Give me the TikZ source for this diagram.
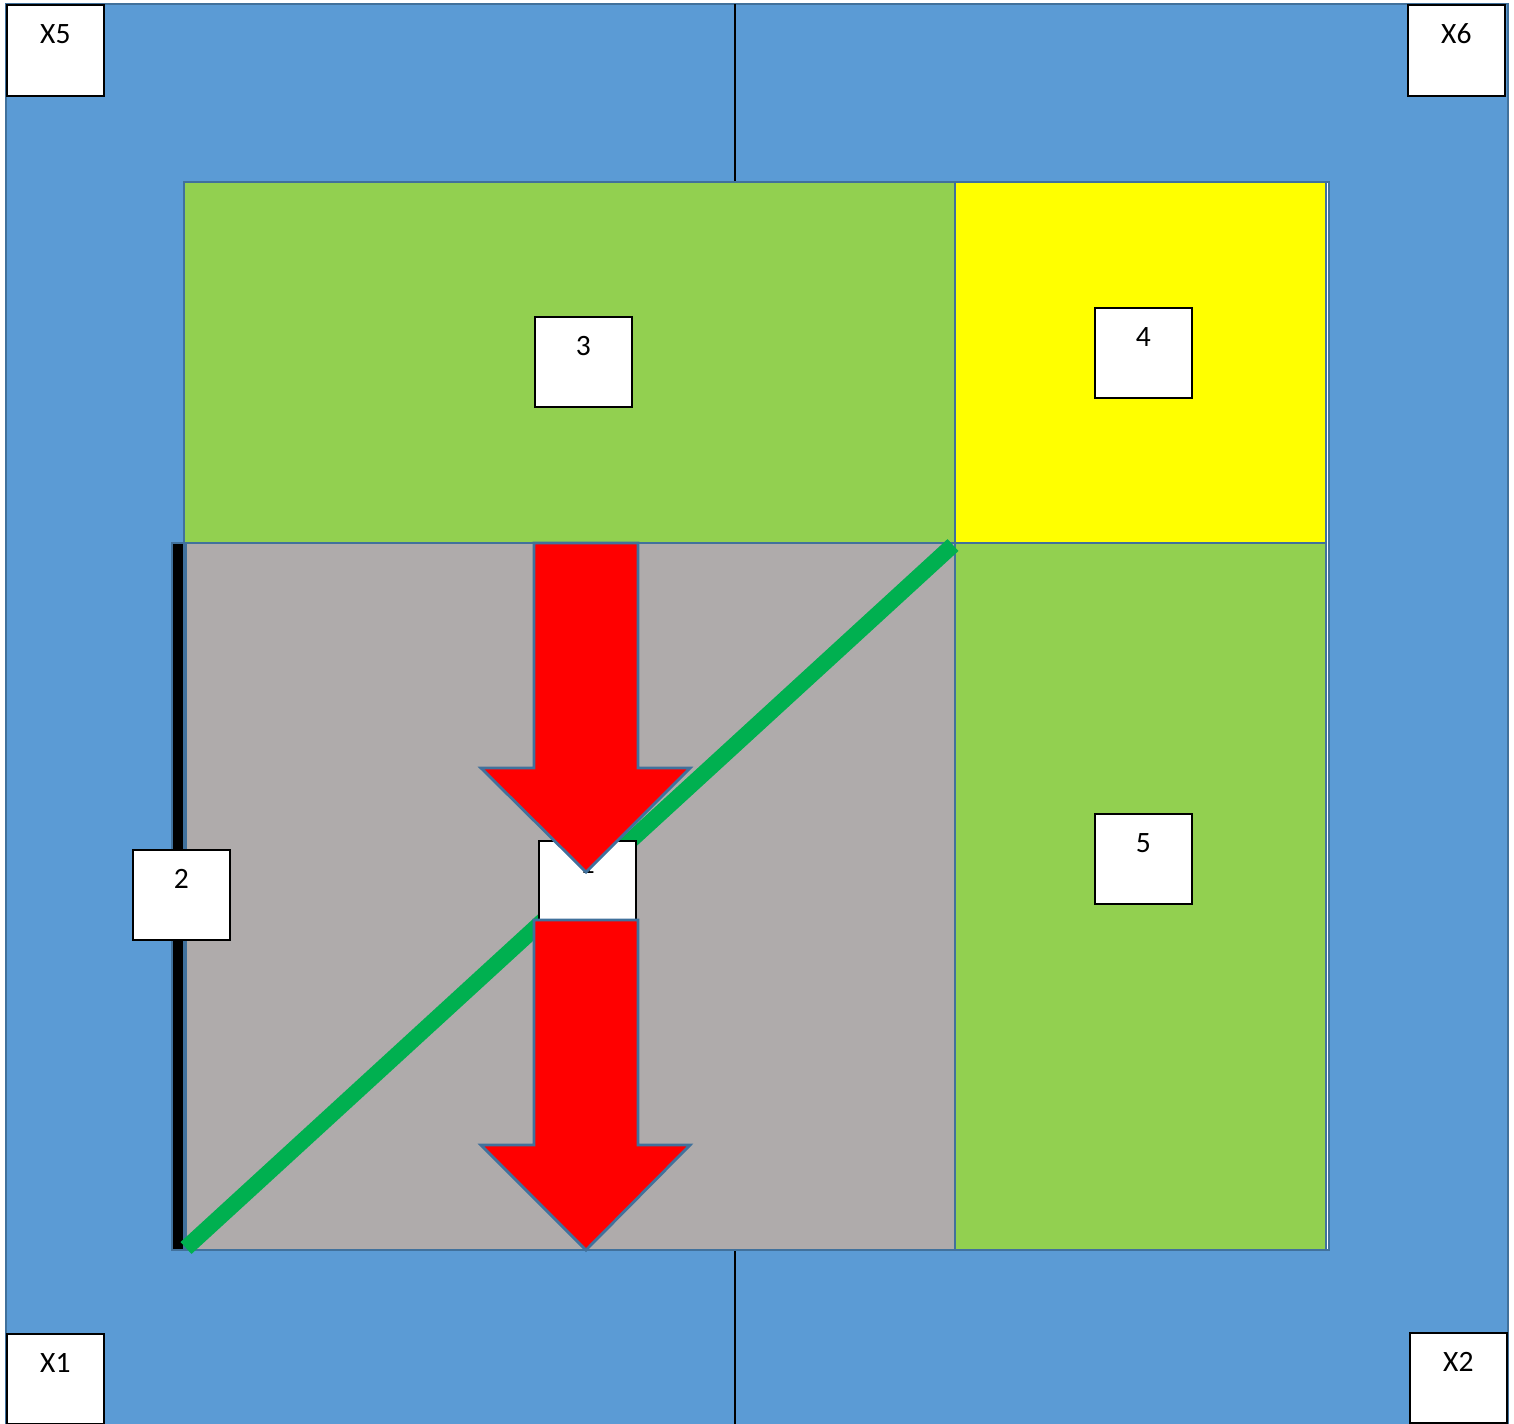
\documentclass[tikz,border=0pt]{standalone}
\usepackage{fontspec}
\setmainfont{Carlito}
\definecolor{bgblue}{HTML}{5B9BD5}
\definecolor{edgeblue}{HTML}{41719C}
\definecolor{lgreen}{HTML}{92D050}
\definecolor{dgreen}{HTML}{00B050}
\definecolor{ygold}{HTML}{FFFF00}
\definecolor{rgray}{HTML}{AFABAB}
\definecolor{ared}{HTML}{FF0000}
\tikzset{
  region/.style={draw=edgeblue, line width=0.8pt},
  tagbox/.style={draw=black, fill=white, line width=0.45pt, inner sep=0pt,
    minimum width=0.97cm, text height=0.39cm, text depth=0.51cm,
    anchor=north west, font=\fontsize{8.4}{9}\selectfont},
  bigarrow/.style={fill=ared, draw=edgeblue, line width=0.8pt, line join=miter},
  divider/.style={draw=black, line width=0.35pt},
  diag/.style={draw=dgreen, line width=4.6pt}
}
\begin{document}
\begin{tikzpicture}[x=0.01cm, y=-0.01cm]
\useasboundingbox (0,0) rectangle (1514,1423);
\fill[white] (0,0) rectangle (1514,1423);
% blue background
\draw[region, fill=bgblue] (6,4) rectangle (1508,1430);
% dividers
\coordinate (t1) at (735,4);
\coordinate (t2) at (735,182);
\coordinate (b1) at (735,1250);
\coordinate (b2) at (735,1430);
\draw[divider] (t1) -- (t2);
\draw[divider] (b1) -- (b2);
% outer frame
\draw[region, fill=white] (184,182) rectangle (1329,1250);
\draw[region, fill=lgreen] (184,182) rectangle (955,543);
\draw[region, fill=ygold] (955,182) rectangle (1326,543);
\draw[region, fill=rgray] (186,543) rectangle (955,1250);
\draw[region, fill=lgreen] (955,543) rectangle (1326,1250);
% black bar
\draw[region, fill=black] (172,543) rectangle (184,1250);
% diagonal
\coordinate (d1) at (186,1248);
\coordinate (d2) at (953,545);
\draw[diag] (d1) -- (d2);
% box 1 (behind arrows)
\node[tagbox, minimum height=0.8cm, text height=0.33cm, text depth=0.47cm] (n1) at (538,840) {1};
% arrows
\draw[bigarrow] (534,543) -- (638,543) -- (638,768) -- (690,768) -- (586,872) -- (481,768) -- (534,768) -- cycle;
\draw[bigarrow] (534,920) -- (638,920) -- (638,1145) -- (690,1145) -- (586,1250) -- (481,1145) -- (534,1145) -- cycle;
% tag boxes
\node[tagbox] (n2) at (132,849) {2};
\node[tagbox] (n3) at (534,316) {3};
\node[tagbox] (n4) at (1094,307) {4};
\node[tagbox] (n5) at (1094,813) {5};
\node[tagbox, text depth=0.52cm] (x5) at (6,4) {X5};
\node[tagbox, text depth=0.52cm] (x6) at (1407,4) {X6};
\node[tagbox] (x1) at (6,1333) {X1};
\node[tagbox] (x2) at (1409,1332) {X2};
\end{tikzpicture}
\end{document}
